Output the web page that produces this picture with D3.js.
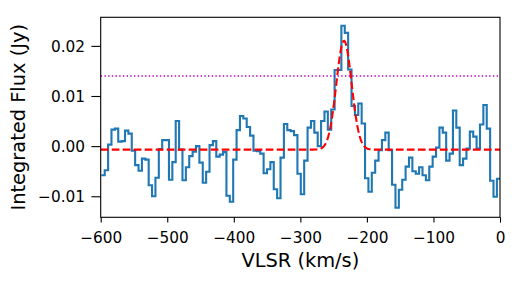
<!DOCTYPE html>
<html>
<head>
<meta charset="utf-8">
<script src="https://cdn.jsdelivr.net/npm/d3@7"></script>
<style>
  body { margin: 0; background: #fff; }
  svg { display: block; font-family: "DejaVu Sans", sans-serif; }
  .axis path, .axis line { stroke: #000; stroke-width: 1.1px; }
  .axis text { fill: #000; font-size: 15.3px; font-family: "DejaVu Sans", sans-serif; }
</style>
</head>
<body>
<svg id="chart" width="517" height="281"></svg>
<script>
// spectrum: channel centres start at vStart, spaced by chanWidth (km/s)
var vStart = -596.5;
var chanWidth = 5.08;
var flux = [
  -0.0058, -0.0048, 0.0003, 0.0033, 0.0035, 0.0009, 0.0010, 0.0031, 0.0025, -0.0009,
  -0.0038, -0.0049, -0.0025, -0.0027, -0.0078, -0.0100, -0.0063, -0.0006, 0.0012, 0.0012,
  -0.0067, -0.0032, 0.0050, -0.0007, -0.0068, -0.0042, -0.0020, -0.0011, 0.0000, -0.0033,
  -0.0073, -0.0051, 0.0002, 0.0010, -0.0021, -0.0017, -0.0012, -0.0099, -0.0111, -0.0027,
  0.0032, 0.0060, 0.0055, 0.0038, 0.0021, -0.0009, -0.0010, -0.0015, -0.0054, -0.0046,
  -0.0032, -0.0086, -0.0104, -0.0023, 0.0044, 0.0032, 0.0030, 0.0022, -0.0055, -0.0096,
  -0.0029, 0.0037, 0.0050, 0.0027, 0.0000, 0.0050, 0.0069, 0.0033, 0.0073, 0.0152,
  0.0152, 0.0240, 0.0226, 0.0153, 0.0080, 0.0062, 0.0085, 0.0045, -0.0064, -0.0091,
  -0.0053, -0.0029, -0.0008, 0.0012, 0.0027, -0.0008, -0.0077, -0.0123, -0.0087, -0.0067,
  -0.0041, -0.0023, -0.0050, -0.0055, -0.0042, -0.0058, -0.0068, -0.0041, -0.0021, -0.0003,
  0.0037, 0.0027, -0.0029, -0.0015, 0.0071, 0.0037, -0.0038, -0.0025, -0.0005, 0.0029,
  0.0019, -0.0005, 0.0043, 0.0082, 0.0035, -0.0069, -0.0101, -0.0065
];

// gaussian fit
var fitAmp = 0.0217;
var fitCenter = -234.4;
var fitSigma = 11.5;
var fitBase = -0.0007;

// dotted level
var threshold = 0.014;

var xTicks = [-600, -500, -400, -300, -200, -100, 0];
var yTicks = [-0.01, 0.00, 0.01, 0.02];

var margin = { top: 17.3, left: 100.7, right: 17, bottom: 63.7 };
var width = 517 - margin.left - margin.right;
var height = 281 - margin.top - margin.bottom;

var svg = d3.select("#chart");

var x = d3.scaleLinear().domain([-600, 0]).range([margin.left, margin.left + width]);
var y = d3.scaleLinear().domain([-0.0142, 0.0257]).range([margin.top + height, margin.top]);

svg.append("defs").append("clipPath")
    .attr("id", "plotclip")
  .append("rect")
    .attr("x", margin.left)
    .attr("y", margin.top)
    .attr("width", width)
    .attr("height", height);

var plot = svg.append("g").attr("clip-path", "url(#plotclip)");

// step line built from channel edges
var steps = flux.map(function(d, i) {
  return { v: vStart - chanWidth / 2 + i * chanWidth, f: d };
});
steps.push({ v: vStart - chanWidth / 2 + flux.length * chanWidth, f: flux[flux.length - 1] });

var stepLine = d3.line()
    .x(function(d) { return x(d.v); })
    .y(function(d) { return y(d.f); })
    .curve(d3.curveStepAfter);

plot.append("path")
    .datum(steps)
    .attr("d", stepLine)
    .attr("fill", "none")
    .attr("stroke", "#1f77b4")
    .attr("stroke-width", 2.1)
    .attr("stroke-linejoin", "miter");

// fitted gaussian
var vGrid = d3.range(-600, 0.5, 1);
var fitLine = d3.line()
    .x(function(v) { return x(v); })
    .y(function(v) {
      return y(fitBase + fitAmp * Math.exp(-0.5 * Math.pow((v - fitCenter) / fitSigma, 2)));
    });

plot.append("path")
    .datum(vGrid)
    .attr("d", fitLine)
    .attr("fill", "none")
    .attr("stroke", "#ff0000")
    .attr("stroke-width", 2.1)
    .attr("stroke-dasharray", "7.7,3.3");

plot.append("line")
    .attr("x1", x(-600))
    .attr("x2", x(0))
    .attr("y1", y(threshold))
    .attr("y2", y(threshold))
    .attr("stroke", "#bf00bf")
    .attr("stroke-width", 1.4)
    .attr("stroke-dasharray", "1.4,2.3");

// axes
var fmtY = d3.format(".2f");

svg.append("g")
    .attr("class", "axis")
    .attr("transform", "translate(0," + (margin.top + height) + ")")
    .call(d3.axisBottom(x).tickValues(xTicks).tickSize(5.3).tickPadding(10).tickSizeOuter(0)
      .tickFormat(d3.format("d")))
    .call(function(g) { g.select(".domain").remove(); });

svg.append("g")
    .attr("class", "axis")
    .attr("transform", "translate(" + margin.left + ",0)")
    .call(d3.axisLeft(y).tickValues(yTicks).tickSize(9.3).tickPadding(6.4).tickSizeOuter(0)
      .tickFormat(fmtY))
    .call(function(g) {
      g.select(".domain").remove();
      g.selectAll("text").attr("dy", "0.36em");
    });

// frame
svg.append("rect")
    .attr("x", margin.left)
    .attr("y", margin.top)
    .attr("width", width)
    .attr("height", height)
    .attr("fill", "none")
    .attr("stroke", "#000")
    .attr("stroke-width", 1.1);

svg.append("text")
    .attr("x", margin.left + width / 2)
    .attr("y", 266.5)
    .attr("text-anchor", "middle")
    .attr("font-size", "19.4px")
    .text("VLSR (km/s)");

svg.append("text")
    .attr("transform", "rotate(-90)")
    .attr("x", -(margin.top + height / 2))
    .attr("y", 25)
    .attr("text-anchor", "middle")
    .attr("font-size", "19.4px")
    .text("Integrated Flux (Jy)");
</script>
</body>
</html>
